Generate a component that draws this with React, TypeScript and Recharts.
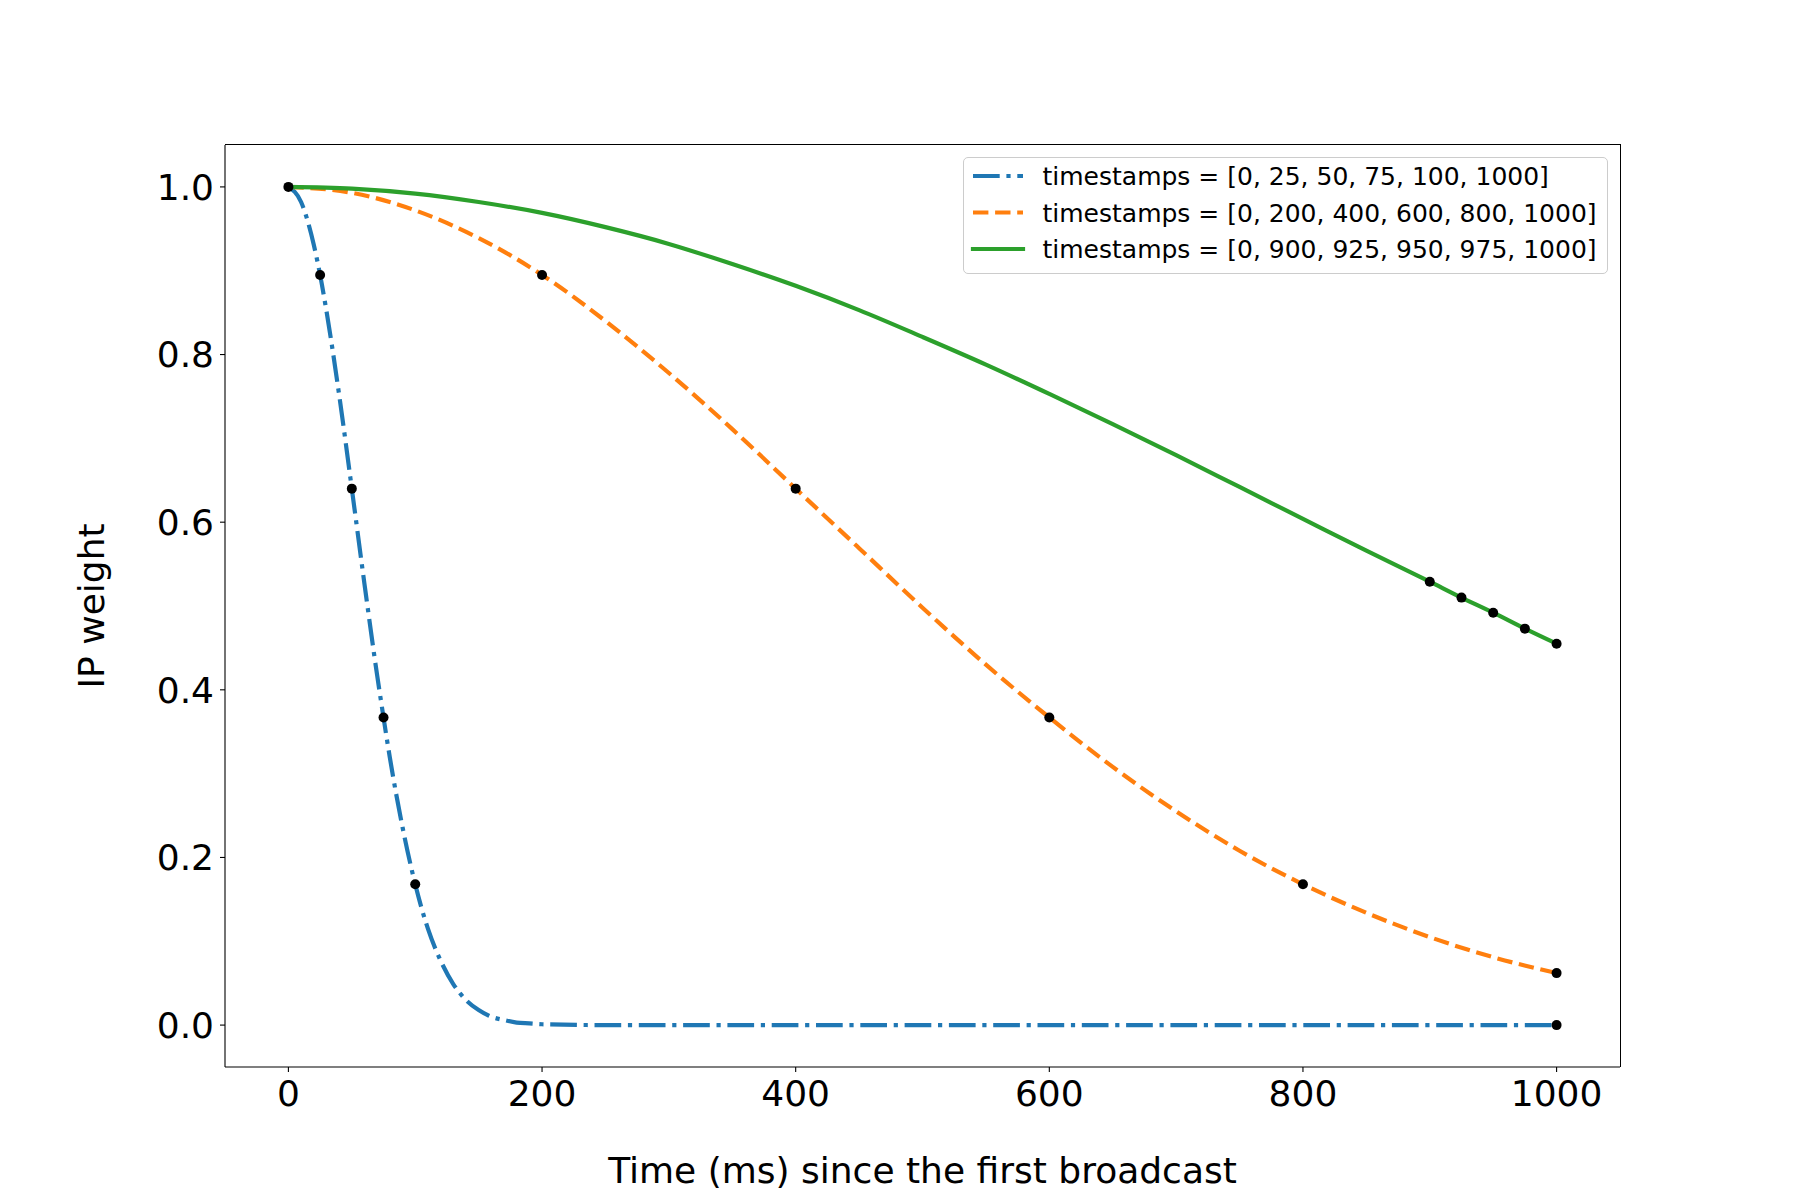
import React from 'react';
import { ComposedChart, Line, Scatter, XAxis, YAxis, Label } from 'recharts';

const font = 'DejaVu Sans, sans-serif';

// curves (ms -> IP weight)
const blueT = [0, 10, 20, 25, 30, 40, 50, 60, 70, 75, 80, 90, 100, 110, 120, 130, 140, 150, 160, 170, 180, 190, 200, 250, 300, 400, 500, 600, 700, 800, 900, 1000];
const blueW = [1.0, 0.982, 0.931, 0.895, 0.852, 0.752, 0.64, 0.526, 0.417, 0.367, 0.319, 0.236, 0.168, 0.115, 0.077, 0.049, 0.03, 0.018, 0.01, 0.006, 0.003, 0.002, 0.001, 0, 0, 0, 0, 0, 0, 0, 0, 0];

const orangeT = [0, 50, 100, 150, 200, 250, 300, 350, 400, 450, 500, 550, 600, 650, 700, 750, 800, 850, 900, 950, 1000];
const orangeW = [1.0, 0.993, 0.972, 0.939, 0.895, 0.84, 0.778, 0.711, 0.64, 0.569, 0.498, 0.43, 0.367, 0.308, 0.255, 0.208, 0.168, 0.134, 0.105, 0.081, 0.062];

const greenT = [0, 50, 100, 150, 200, 250, 300, 350, 400, 450, 500, 550, 600, 650, 700, 750, 800, 850, 900, 925, 950, 975, 1000];
const greenW = [1.0, 0.998, 0.992, 0.982, 0.969, 0.952, 0.932, 0.908, 0.882, 0.853, 0.821, 0.788, 0.753, 0.717, 0.68, 0.642, 0.604, 0.566, 0.529, 0.51, 0.492, 0.473, 0.455];

// black sample markers
const dotT = [0, 25, 50, 75, 100, 1000, 200, 400, 600, 800, 1000, 900, 925, 950, 975, 1000];
const dotW = [1.0, 0.895, 0.64, 0.367, 0.168, 0.0, 0.895, 0.64, 0.367, 0.168, 0.062, 0.529, 0.51, 0.492, 0.473, 0.455];

const xTicks = [0, 200, 400, 600, 800, 1000];
const yTicks = [0, 0.2, 0.4, 0.6, 0.8, 1.0];

const legendLabels = [
  'timestamps = [0, 25, 50, 75, 100, 1000]',
  'timestamps = [0, 200, 400, 600, 800, 1000]',
  'timestamps = [0, 900, 925, 950, 975, 1000]',
];

const zip = (t: number[], w: number[]) => t.map((x, i) => ({ t: x, w: w[i] }));

const series = [
  { data: zip(blueT, blueW), color: '#1f77b4', dash: '26.7 6.7 4.2 6.7', cap: 'butt' },
  { data: zip(orangeT, orangeW), color: '#ff7f0e', dash: '15.4 6.7', cap: 'butt' },
  { data: zip(greenT, greenW), color: '#2ca02c', dash: undefined, cap: 'square' },
];

const LW = 4.2;

function Dot(props: any) {
  return <circle cx={props.cx} cy={props.cy} r={5} fill="#000" />;
}

export default function App() {
  const tickStyle = { fill: '#000', fontSize: 36, fontFamily: font };
  const axisLine = { stroke: '#000', strokeWidth: 1.1 };

  return (
    <div style={{ position: 'absolute', left: 0, top: 0, width: 1800, height: 1200, background: '#fff' }}>
      <ComposedChart width={1800} height={1200} margin={{ top: 145, right: 180, bottom: 0, left: 0 }}>
        <XAxis
          dataKey="t"
          type="number"
          domain={[-50, 1050]}
          ticks={xTicks}
          height={133}
          tick={tickStyle}
          tickSize={5}
          tickMargin={8}
          axisLine={axisLine}
          tickLine={axisLine}
          allowDataOverflow
        >
          <Label
            content={() => (
              <text x={922.5} y={1183} textAnchor="middle" fontSize={36} fontFamily={font} fill="#000">
                Time (ms) since the first broadcast
              </text>
            )}
          />
        </XAxis>
        <YAxis
          dataKey="w"
          type="number"
          domain={[-0.05, 1.05]}
          ticks={yTicks}
          width={225}
          tick={tickStyle}
          tickSize={5}
          tickMargin={6}
          tickFormatter={(v: number) => v.toFixed(1)}
          axisLine={axisLine}
          tickLine={axisLine}
          allowDataOverflow
        >
          <Label
            content={() => (
              <text x={104} y={606} transform="rotate(-90 104 606)" textAnchor="middle" fontSize={36} fontFamily={font} fill="#000">
                IP weight
              </text>
            )}
          />
        </YAxis>
        {series.map((s, i) => (
          <Line
            key={i}
            data={s.data}
            dataKey="w"
            type="monotone"
            stroke={s.color}
            strokeWidth={LW}
            strokeDasharray={s.dash}
            strokeLinecap={s.cap as any}
            dot={false}
            activeDot={false}
            isAnimationActive={false}
          />
        ))}
        <Scatter data={zip(dotT, dotW)} dataKey="w" shape={Dot} isAnimationActive={false} />
      </ComposedChart>

      {/* top and right spines */}
      <div
        style={{
          position: 'absolute',
          left: 225,
          top: 144,
          width: 1396,
          height: 923,
          borderTop: '1px solid #000',
          borderRight: '1px solid #000',
          boxSizing: 'border-box',
          pointerEvents: 'none',
        }}
      />

      <div
        style={{
          position: 'absolute',
          left: 963,
          top: 157,
          width: 645,
          height: 117,
          border: '1px solid #cccccc',
          borderRadius: 5,
          boxSizing: 'border-box',
          background: 'rgba(255,255,255,0.8)',
        }}
      >
        <svg width={643} height={115} style={{ position: 'absolute', left: -1, top: -1 }}>
          {series.map((s, i) => (
            <g key={i}>
              <line
                x1={10}
                x2={60}
                y1={19 + i * 36.5}
                y2={19 + i * 36.5}
                stroke={s.color}
                strokeWidth={LW}
                strokeDasharray={s.dash}
                strokeLinecap={s.cap as any}
              />
              <text x={79.5} y={28 + i * 36.5} fontSize={25} fontFamily={font} fill="#000">
                {legendLabels[i]}
              </text>
            </g>
          ))}
        </svg>
      </div>
    </div>
  );
}
